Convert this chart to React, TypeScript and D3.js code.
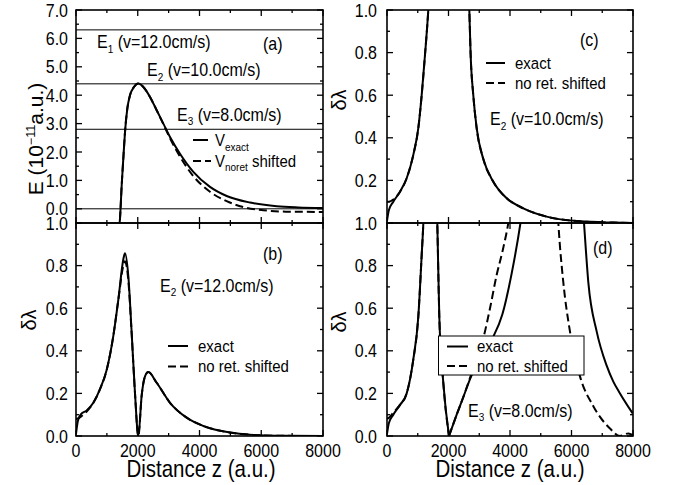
import React from 'react';
import * as d3 from 'd3';

// axis ticks
const zMajor = [0, 2000, 4000, 6000, 8000];
const zMinor = [1000, 3000, 5000, 7000];
const eMajor = [0, 1, 2, 3, 4, 5, 6, 7];
const eMinor = [0.5, 1.5, 2.5, 3.5, 4.5, 5.5, 6.5];
const dMajor = [0, 0.2, 0.4, 0.6, 0.8, 1.0];
const dMinor = [0.1, 0.3, 0.5, 0.7, 0.9];

// energy levels in (a)
const levels = [6.3, 4.4, 2.8];

// (a) potential
const zExactA = [1380, 1425, 1480, 1533, 1587, 1662, 1749, 1878, 2018, 2180, 2397, 2613, 2829, 3045, 3368, 3800, 4340, 4880, 5636, 6500, 7200, 8000];
const vExactA = [-0.8, -0.34, 0.83, 1.78, 2.7, 3.53, 4.0, 4.29, 4.41, 4.29, 3.94, 3.47, 3.0, 2.53, 1.94, 1.3, 0.77, 0.45, 0.22, 0.09, 0.05, 0.03];
const zNoretA = [1380, 1425, 1480, 1533, 1587, 1662, 1749, 1878, 2018, 2180, 2397, 2613, 2829, 3045, 3368, 3800, 4340, 4880, 5420, 6070, 6800, 8000];
const vNoretA = [-0.8, -0.34, 0.83, 1.78, 2.7, 3.53, 4.0, 4.29, 4.41, 4.29, 3.94, 3.47, 2.98, 2.48, 1.84, 1.15, 0.6, 0.27, 0.06, -0.05, -0.1, -0.11];

// (b) E2, v=12
const zB = [0, 60, 150, 346, 562, 777, 993, 1209, 1371, 1533, 1587, 1695, 1803, 1911, 2019, 2127, 2235, 2343, 2613, 3045, 3585, 4125, 4988, 5740, 6500, 8000];
const exactB = [0.01, 0.07, 0.1, 0.12, 0.156, 0.22, 0.31, 0.47, 0.64, 0.83, 0.858, 0.75, 0.485, 0.2, 0.0, 0.19, 0.28, 0.3, 0.25, 0.156, 0.086, 0.047, 0.016, 0.005, 0.001, 0];
const noretB = [0.08, 0.082, 0.09, 0.115, 0.156, 0.22, 0.31, 0.47, 0.64, 0.8, 0.82, 0.73, 0.48, 0.2, 0.0, 0.19, 0.28, 0.3, 0.25, 0.156, 0.086, 0.047, 0.016, 0.005, 0.001, 0];

// (c) E2, v=10
const zC1 = [0, 60, 205, 423, 640, 856, 1018, 1128, 1236, 1343, 1400];
const exactC1 = [0.01, 0.06, 0.1, 0.147, 0.21, 0.32, 0.445, 0.6, 0.79, 1.0, 1.15];
const noretC1 = [0.1, 0.1, 0.11, 0.147, 0.21, 0.32, 0.445, 0.6, 0.79, 1.0, 1.15];
const zC2 = [2640, 2677, 2720, 2806, 2916, 3132, 3457, 3893, 4433, 5193, 6276, 7360, 8000];
const exactC2 = [1.15, 1.0, 0.79, 0.6, 0.445, 0.3, 0.194, 0.116, 0.069, 0.03, 0.008, 0.002, 0.0];

// (d) E3, v=8
const zD1 = [0, 60, 205, 423, 640, 856, 1018, 1128, 1182, 1220];
const exactD1 = [0.01, 0.06, 0.1, 0.146, 0.2, 0.36, 0.56, 0.85, 1.0, 1.15];
const noretD1 = [0.08, 0.085, 0.11, 0.146, 0.2, 0.36, 0.56, 0.85, 1.0, 1.15];
const zD2 = [1620, 1636, 1701, 1831, 2016];
const exactD2 = [1.1, 1.0, 0.56, 0.25, 0.0];
const zD3 = [2016, 2266, 2500, 2755, 3050, 3400, 3750, 4050, 4340, 4400];
const exactD3 = [0.0, 0.1, 0.19, 0.286, 0.36, 0.45, 0.57, 0.76, 1.0, 1.06];
const zD3n = [2016, 2266, 2500, 2740, 2950, 3150, 3350, 3566, 3760, 3945, 4000];
const noretD3 = [0.0, 0.1, 0.19, 0.29, 0.38, 0.47, 0.6, 0.756, 0.87, 1.0, 1.05];
const zD4 = [6350, 6407, 6548, 6820, 7144, 7360, 7577, 7990];
const exactD4 = [1.12, 1.0, 0.72, 0.49, 0.33, 0.255, 0.2, 0.106];
const zD4n = [5540, 5572, 5735, 5951, 6276, 6710, 7252, 7577, 7848, 8000];
const noretD4 = [1.08, 1.0, 0.72, 0.49, 0.28, 0.14, 0.035, 0.0, 0.012, 0.004];

const FONT = "'Liberation Sans', Arial, Helvetica, sans-serif";
const SY = 1.15;

const Txt = ({ x, y, size = 16, anchor = 'start', rot = 0, sx = SY, children }: any) => (
  <text
    transform={rot ? `translate(${x},${y}) rotate(${rot}) scale(${sx},1)` : `translate(${x},${y}) scale(1,${SY})`}
    fontSize={size}
    textAnchor={anchor}
    fontFamily={FONT}
    fill="#000"
  >
    {children}
  </text>
);

const LEFT = [76, 323];
const RIGHT = [387, 633];
const TOP = [10, 223];
const BOT = [223, 436];

type Series = { z: number[]; v: number[]; dashed?: boolean };

const Panel = ({ id, xr, yr, yDomain, yMaj, yMin, labels, labelX, xLabels, series, children }: any) => {
  const x = d3.scaleLinear().domain([0, 8000]).range(xr);
  const y = d3.scaleLinear().domain(yDomain).range([yr[1], yr[0]]);
  const line = d3
    .line<[number, number]>()
    .x((d) => x(d[0]))
    .y((d) => y(d[1]))
    .curve(d3.curveMonotoneX);
  return (
    <g>
      <clipPath id={id}>
        <rect x={xr[0]} y={yr[0]} width={xr[1] - xr[0]} height={yr[1] - yr[0]} />
      </clipPath>
      <g clipPath={`url(#${id})`}>
        {children && children(x, y)}
        {series.map((s: Series, i: number) => (
          <path
            key={i}
            d={line(d3.zip(s.z, s.v) as [number, number][]) || ''}
            fill="none"
            stroke="#000"
            strokeWidth={2}
            strokeDasharray={s.dashed ? '8,4' : undefined}
          />
        ))}
      </g>
      {/* ticks, inward on all sides */}
      {zMajor.concat(zMinor).map((t) => {
        const len = zMajor.includes(t) ? 6 : 3;
        return (
          <g key={'x' + t} stroke="#000" strokeWidth={1.3}>
            <line x1={x(t)} x2={x(t)} y1={yr[1]} y2={yr[1] - len} />
            <line x1={x(t)} x2={x(t)} y1={yr[0]} y2={yr[0] + len} />
          </g>
        );
      })}
      {yMaj.concat(yMin).map((t: number) => {
        const len = yMaj.includes(t) ? 6 : 3;
        return (
          <g key={'y' + t} stroke="#000" strokeWidth={1.3}>
            <line x1={xr[0]} x2={xr[0] + len} y1={y(t)} y2={y(t)} />
            <line x1={xr[1]} x2={xr[1] - len} y1={y(t)} y2={y(t)} />
          </g>
        );
      })}
      <rect x={xr[0]} y={yr[0]} width={xr[1] - xr[0]} height={yr[1] - yr[0]} fill="none" stroke="#000" strokeWidth={1.6} />
      {labels.map((t: number) => (
        <Txt key={'l' + t} x={labelX} y={y(t) + 6.5} anchor="end">
          {t.toFixed(1)}
        </Txt>
      ))}
      {xLabels &&
        zMajor.map((t) => (
          <Txt key={'xl' + t} x={x(t)} y={456.5} anchor="middle">
            {String(t)}
          </Txt>
        ))}
    </g>
  );
};

const Sub = ({ main, sub, rest }: any) => (
  <>
    {main}
    <tspan fontSize={10} dy={4}>
      {sub}
    </tspan>
    <tspan dy={-4}>{rest}</tspan>
  </>
);

const LegendRows = ({ x1, x2, tx, y1, y2, b1, b2 }: any) => (
  <g>
    <line x1={x1} x2={x2} y1={y1} y2={y1} stroke="#000" strokeWidth={2} />
    <line x1={x1} x2={x2} y1={y2} y2={y2} stroke="#000" strokeWidth={2} strokeDasharray="8,4" />
    <Txt x={tx} y={b1} size={15}>exact</Txt>
    <Txt x={tx} y={b2} size={15}>no ret. shifted</Txt>
  </g>
);

export default function App() {
  return (
    <svg width={675} height={485} style={{ display: 'block', position: 'absolute', left: 0, top: 0, background: '#fff' }}>
      <rect width={675} height={485} fill="#fff" />

      {/* (a) */}
      <Panel
        id="ca"
        xr={LEFT}
        yr={TOP}
        yDomain={[-0.5, 7]}
        yMaj={eMajor}
        yMin={eMinor}
        labels={eMajor}
        labelX={68}
        series={[
          { z: zExactA, v: vExactA },
          { z: zNoretA, v: vNoretA, dashed: true },
        ]}
      >
        {(x: any, y: any) =>
          levels.concat([0]).map((l) => (
            <line key={l} x1={LEFT[0]} x2={LEFT[1]} y1={y(l)} y2={y(l)} stroke="#000" strokeWidth={1} />
          ))
        }
      </Panel>
      <Txt x={97} y={48}><Sub main="E" sub="1" rest=" (v=12.0cm/s)" /></Txt>
      <Txt x={147} y={76}><Sub main="E" sub="2" rest=" (v=10.0cm/s)" /></Txt>
      <Txt x={177} y={120.5}><Sub main="E" sub="3" rest=" (v=8.0cm/s)" /></Txt>
      <Txt x={263} y={50}>(a)</Txt>
      <line x1={193} x2={208} y1={140} y2={140} stroke="#000" strokeWidth={2} />
      <line x1={193} x2={211} y1={161} y2={161} stroke="#000" strokeWidth={2} strokeDasharray="8,4" />
      <Txt x={215} y={146} size={15}>
        V<tspan fontSize={10} dy={4}>exact</tspan>
      </Txt>
      <Txt x={215} y={166.5} size={15}>
        V<tspan fontSize={10} dy={4}>noret</tspan>
        <tspan dy={-4}> shifted</tspan>
      </Txt>
      <Txt x={43} y={139} size={20} anchor="middle" rot={-90} sx={1.05}>
        E (10<tspan fontSize={12} dy={-8}>−11</tspan>
        <tspan dy={8}>a.u.)</tspan>
      </Txt>

      {/* (b) */}
      <Panel
        id="cb"
        xr={LEFT}
        yr={BOT}
        yDomain={[0, 1]}
        yMaj={dMajor}
        yMin={dMinor}
        labels={dMajor}
        labelX={68}
        xLabels
        series={[
          { z: zB, v: exactB },
          { z: zB, v: noretB, dashed: true },
        ]}
      />
      <Txt x={263} y={260}>(b)</Txt>
      <Txt x={160} y={291.5}><Sub main="E" sub="2" rest=" (v=12.0cm/s)" /></Txt>
      <LegendRows x1={168} x2={188} tx={198} y1={346} y2={366.5} b1={351.5} b2={371.5} />
      <Txt x={36} y={320} size={20} anchor="middle" rot={-90} sx={1.0}>δλ</Txt>
      <Txt x={201} y={477} size={20.5} anchor="middle">Distance z (a.u.)</Txt>

      {/* (c) */}
      <Panel
        id="cc"
        xr={RIGHT}
        yr={TOP}
        yDomain={[0, 1]}
        yMaj={dMajor}
        yMin={dMinor}
        labels={dMajor.slice(1)}
        labelX={377}
        series={[
          { z: zC1, v: exactC1 },
          { z: zC2, v: exactC2 },
          { z: zC1, v: noretC1, dashed: true },
          { z: zC2, v: exactC2, dashed: true },
        ]}
      />
      <Txt x={580} y={46}>(c)</Txt>
      <LegendRows x1={486} x2={505} tx={515} y1={63} y2={83} b1={68.5} b2={88.5} />
      <Txt x={490} y={125}><Sub main="E" sub="2" rest=" (v=10.0cm/s)" /></Txt>
      <Txt x={346} y={100} size={20} anchor="middle" rot={-90} sx={1.0}>δλ</Txt>

      {/* (d) */}
      <Panel
        id="cd"
        xr={RIGHT}
        yr={BOT}
        yDomain={[0, 1]}
        yMaj={dMajor}
        yMin={dMinor}
        labels={dMajor}
        labelX={377}
        xLabels
        series={[
          { z: zD1, v: exactD1 },
          { z: zD2, v: exactD2 },
          { z: zD3, v: exactD3 },
          { z: zD4, v: exactD4 },
          { z: zD1, v: noretD1, dashed: true },
          { z: zD2, v: exactD2, dashed: true },
          { z: zD3n, v: noretD3, dashed: true },
          { z: zD4n, v: noretD4, dashed: true },
        ]}
      />
      <Txt x={593} y={254}>(d)</Txt>
      <rect x={438.5} y={336} width={145.5} height={39} fill="#fff" stroke="#000" strokeWidth={1} />
      <LegendRows x1={447} x2={468} tx={477} y1={346.5} y2={366} b1={351.5} b2={371.5} />
      <Txt x={468} y={416.5}><Sub main="E" sub="3" rest=" (v=8.0cm/s)" /></Txt>
      <Txt x={346} y={322} size={20} anchor="middle" rot={-90} sx={1.0}>δλ</Txt>
      <Txt x={510} y={477} size={20.5} anchor="middle">Distance z (a.u.)</Txt>
    </svg>
  );
}
